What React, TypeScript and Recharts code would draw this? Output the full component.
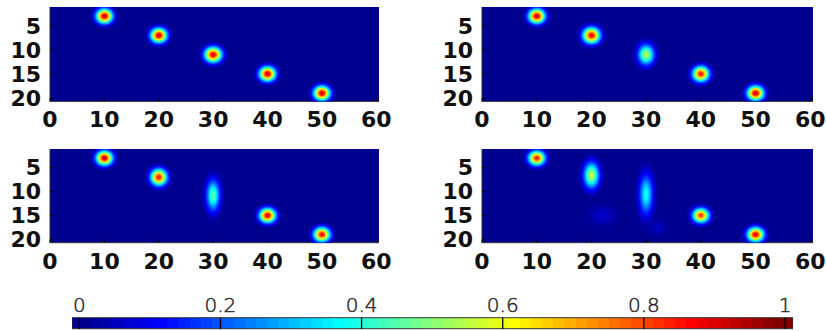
import React from 'react';
import { ScatterChart, Scatter, XAxis, YAxis, CartesianGrid, BarChart, Bar } from 'recharts';

// ---------- data ----------
const xTicks = [0, 10, 20, 30, 40, 50, 60];
const yTicks = [5, 10, 15, 20];
const xDomain: [number, number] = [0, 60.5];
const yDomain: [number, number] = [1.1, 20.7];
const colorbarTicks = [0, 0.2, 0.4, 0.6, 0.8, 1];
const colorbarRange: [number, number] = [-0.0103, 1.0113];
const colorbarData = [{ name: 'jet', range: colorbarRange }];

// blobs: centre (x, y), peak value, spread along x / y (axis units)
const panelTopLeft = [
  { x: 10, y: 3, peak: 0.92, sx: 1.0, sy: 1.0 },
  { x: 20, y: 7, peak: 0.92, sx: 1.0, sy: 1.0 },
  { x: 30, y: 11, peak: 0.9, sx: 1.05, sy: 1.05 },
  { x: 40, y: 15, peak: 0.92, sx: 1.0, sy: 1.0 },
  { x: 50, y: 19, peak: 0.92, sx: 1.0, sy: 1.0 },
];
const panelTopRight = [
  { x: 10, y: 3, peak: 0.92, sx: 1.0, sy: 1.0 },
  { x: 20, y: 7, peak: 0.88, sx: 1.05, sy: 1.1 },
  { x: 30, y: 11, peak: 0.55, sx: 1.0, sy: 1.4 },
  { x: 40, y: 15, peak: 0.86, sx: 1.0, sy: 1.05 },
  { x: 50, y: 19, peak: 0.92, sx: 1.0, sy: 1.0 },
];
const panelBottomLeft = [
  { x: 10, y: 3, peak: 0.92, sx: 1.0, sy: 1.0 },
  { x: 20, y: 7, peak: 0.85, sx: 1.0, sy: 1.15 },
  { x: 30, y: 10.8, peak: 0.45, sx: 0.85, sy: 2.2 },
  { x: 40, y: 15, peak: 0.9, sx: 1.0, sy: 1.0 },
  { x: 50, y: 19, peak: 0.88, sx: 1.0, sy: 1.0 },
];
const panelBottomRight = [
  { x: 22, y: 15, peak: 0.06, sx: 1.5, sy: 1.3 },
  { x: 32, y: 17.5, peak: 0.05, sx: 1.0, sy: 1.0 },
  { x: 10, y: 3, peak: 0.85, sx: 1.0, sy: 1.0 },
  { x: 20, y: 6.6, peak: 0.56, sx: 0.95, sy: 1.8 },
  { x: 30, y: 10.6, peak: 0.38, sx: 0.85, sy: 2.8 },
  { x: 40, y: 15, peak: 0.82, sx: 1.0, sy: 1.0 },
  { x: 50, y: 19, peak: 0.9, sx: 1.0, sy: 1.0 },
];

// ---------- colormap (MATLAB jet, 64 entries) ----------
const uAt = (j: number) => (j < 1 || j > 47 ? 0 : j <= 16 ? j / 16 : j <= 31 ? 1 : (48 - j) / 16);
const JET: number[][] = Array.from({ length: 64 }, (_, i) => {
  const k = i + 1;
  return [uAt(k - 24), uAt(k - 8), uAt(k + 8)];
});
const toRgb = (c: number[]) =>
  `rgb(${Math.round(c[0] * 255)},${Math.round(c[1] * 255)},${Math.round(c[2] * 255)})`;
function jet(v: number) {
  const p = Math.max(0, Math.min(1, v)) * 63;
  const i = Math.floor(p);
  const f = p - i;
  const a = JET[i];
  const b = JET[Math.min(63, i + 1)];
  return toRgb([a[0] + (b[0] - a[0]) * f, a[1] + (b[1] - a[1]) * f, a[2] + (b[2] - a[2]) * f]);
}
const BG = jet(0);

const axisFont = { fontSize: 22, fontFamily: 'DejaVu Sans', fontWeight: 'bold', fill: '#111' };
const frame = { stroke: '#333', strokeWidth: 1 };
const tickMark = { stroke: '#000', strokeWidth: 1 };

function makeBlobShape(panelId: string, pxX: number, pxY: number) {
  return (props: any) => {
    const { cx, cy, payload } = props;
    if (cx == null || cy == null) return <g />;
    const id = `g-${panelId}-${payload.x}-${payload.y}`.replace(/\./g, '_');
    const rx = 3 * payload.sx * pxX;
    const ry = 3 * payload.sy * pxY;
    const stops = [];
    const N = 24;
    for (let i = 0; i <= N; i++) {
      const t = i / N;
      const v = payload.peak * Math.exp(-((3 * t) ** 2) / 2);
      const op = Math.min(1, (1 - t) / 0.3);
      stops.push(<stop key={i} offset={t} stopColor={jet(v)} stopOpacity={op} />);
    }
    return (
      <g>
        <defs>
          <radialGradient id={id} cx="50%" cy="50%" r="50%">
            {stops}
          </radialGradient>
        </defs>
        <ellipse cx={cx} cy={cy} rx={rx} ry={ry} fill={`url(#${id})`} />
      </g>
    );
  };
}

type Blob = { x: number; y: number; peak: number; sx: number; sy: number };

function Panel({ id, left, top, pw, ph, data }: { id: string; left: number; top: number; pw: number; ph: number; data: Blob[] }) {
  const pxX = pw / (xDomain[1] - xDomain[0]);
  const pxY = ph / (yDomain[1] - yDomain[0]);
  const width = 50 + pw + 13;
  const height = 7 + ph + 40;
  return (
    <div style={{ position: 'absolute', left: left - 50, top: top - 7, width, height }}>
      <ScatterChart width={width} height={height} margin={{ top: 7, right: 13, bottom: 0, left: 0 }} style={{ overflow: 'visible' }}>
        <CartesianGrid horizontal={false} vertical={false} fill={BG} fillOpacity={1} stroke="none" />
        <XAxis
          xAxisId="b"
          type="number"
          dataKey="x"
          domain={xDomain}
          ticks={xTicks}
          interval={0}
          allowDataOverflow
          height={40}
          tickSize={-3}
          tickMargin={13.4}
          tick={axisFont}
          axisLine={frame}
          tickLine={tickMark}
        />
        <XAxis
          xAxisId="t"
          orientation="top"
          type="number"
          dataKey="x"
          domain={xDomain}
          ticks={xTicks}
          interval={0}
          allowDataOverflow
          height={0}
          tickSize={-3}
          tick={false}
          axisLine={frame}
          tickLine={tickMark}
        />
        <YAxis
          yAxisId="l"
          type="number"
          dataKey="y"
          domain={yDomain}
          reversed
          ticks={yTicks}
          interval={0}
          allowDataOverflow
          width={50}
          tickSize={-3}
          tickMargin={12}
          tick={axisFont}
          axisLine={frame}
          tickLine={tickMark}
        />
        <YAxis
          yAxisId="r"
          orientation="right"
          type="number"
          dataKey="y"
          domain={yDomain}
          reversed
          ticks={yTicks}
          interval={0}
          allowDataOverflow
          width={0}
          tickSize={-3}
          tick={false}
          axisLine={frame}
          tickLine={tickMark}
        />
        <Scatter
          xAxisId="b"
          yAxisId="l"
          data={data}
          isAnimationActive={false}
          shape={makeBlobShape(id, pxX, pxY)}
        />
      </ScatterChart>
    </div>
  );
}

function Colorbar() {
  const [lo, hi] = colorbarRange;
  const t = (v: number) => (v - lo) / (hi - lo);
  const stops: any[] = [<stop key="s" offset={0} stopColor={toRgb(JET[0])} />];
  JET.forEach((c, k) => {
    stops.push(<stop key={`a${k}`} offset={t(k / 64)} stopColor={toRgb(c)} />);
    stops.push(<stop key={`b${k}`} offset={t((k + 1) / 64)} stopColor={toRgb(c)} />);
  });
  stops.push(<stop key="e" offset={1} stopColor={toRgb(JET[63])} />);
  return (
    <div style={{ position: 'absolute', left: 40, top: 280, width: 770, height: 51 }}>
      <svg width={0} height={0} style={{ position: 'absolute' }}>
        <defs>
          <linearGradient id="cbGrad" x1="0" y1="0" x2="1" y2="0">
            {stops}
          </linearGradient>
        </defs>
      </svg>
      <BarChart
        width={770}
        height={51}
        layout="vertical"
        data={colorbarData}
        margin={{ top: 7.7, right: 17, bottom: 2, left: 32 }}
        barCategoryGap={0}
      >
        <YAxis type="category" dataKey="name" hide />
        <Bar dataKey="range" fill="url(#cbGrad)" stroke="#333" strokeWidth={1} isAnimationActive={false} />
        <XAxis
          type="number"
          orientation="top"
          domain={colorbarRange}
          ticks={colorbarTicks}
          interval={0}
          allowDataOverflow
          height={30}
          tickSize={-11.3}
          tickMargin={17.3}
          axisLine={false}
          tickLine={{ stroke: '#000', strokeWidth: 1.3 }}
          tick={{ fontSize: 20, fontFamily: 'DejaVu Sans', fontWeight: 200, fill: '#111', stroke: '#333', strokeWidth: 0.5 }}
        />
      </BarChart>
    </div>
  );
}

export default function App() {
  return (
    <div style={{ position: 'absolute', left: 0, top: 0, width: 826, height: 331, background: '#fff', overflow: 'hidden' }}>
      <Panel id="tl" left={50} top={7.3} pw={329} ph={94.4} data={panelTopLeft} />
      <Panel id="tr" left={482} top={7.3} pw={331} ph={94.4} data={panelTopRight} />
      <Panel id="bl" left={50} top={149.3} pw={329} ph={93.7} data={panelBottomLeft} />
      <Panel id="br" left={482} top={149.3} pw={331} ph={93.7} data={panelBottomRight} />
      <Colorbar />
    </div>
  );
}
